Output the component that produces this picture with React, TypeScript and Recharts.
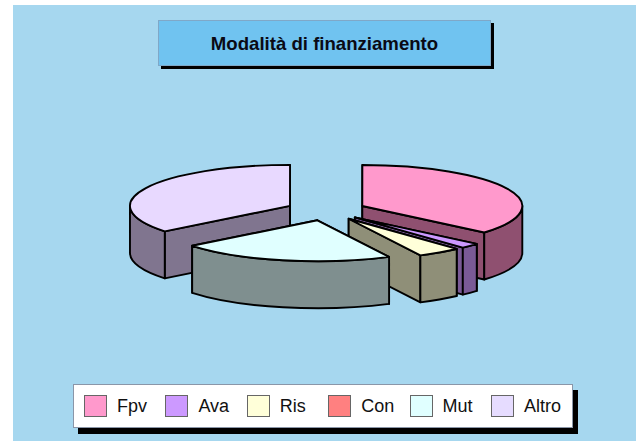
import { PieChart, Pie, Legend } from 'recharts'

// ring order, clockwise from the Mut/Altro split, also the paint order
const categories = ['Altro', 'Fpv', 'Ava', 'Ris', 'Con', 'Mut']
const shares = [35.7, 36.2, 2.0, 4.4, 0, 21.7]
const topColors = ['#E8D9FF', '#FF99CC', '#CC99FF', '#FFFFD9', '#FF8080', '#E0FFFF']
const wallColors = ['#80758F', '#8F5070', '#7A5A96', '#8F8F78', '#8F4848', '#7F8F8F']

const legendNames = ['Fpv', 'Ava', 'Ris', 'Con', 'Mut', 'Altro']
const legendColors = ['#FF99CC', '#CC99FF', '#FFFFD9', '#FF8080', '#E0FFFF', '#E6DCFF']

const data = categories.map((name, i) => ({
  name,
  value: shares[i],
  fill: topColors[i],
  wall: wallColors[i],
}))

const SQUASH = 0.256
const DEPTH = 47
const EXPLODE = 40
const rad = (a: number) => (a * Math.PI) / 180

function Slice3D(props: any) {
  const { cx, cy, outerRadius: r, startAngle, endAngle, fill, payload } = props
  // a zero share has no slice at all
  if (startAngle === endAngle) return <g />
  const wall = payload?.wall ?? props.wall
  const mid = rad((startAngle + endAngle) / 2)
  const ox = cx + EXPLODE * Math.cos(mid)
  const oy = cy - EXPLODE * Math.sin(mid) * SQUASH
  const pt = (a: number) => ({
    x: ox + r * Math.cos(rad(a)),
    y: oy - r * Math.sin(rad(a)) * SQUASH,
  })
  const ry = r * SQUASH
  const s = pt(startAngle)
  const e = pt(endAngle)
  const large = startAngle - endAngle > 180 ? 1 : 0
  const top = `M${ox},${oy} L${s.x},${s.y} A${r},${ry} 0 ${large} 1 ${e.x},${e.y} Z`

  const radial = (a: number) => {
    const p = pt(a)
    return `M${ox},${oy} L${p.x},${p.y} L${p.x},${p.y + DEPTH} L${ox},${oy + DEPTH} Z`
  }

  // outer wall only shows on the front half of the ellipse
  const walls = [[-180, 0], [180, 360]].flatMap(([lo, hi]) => {
    const a1 = Math.min(startAngle, hi)
    const a2 = Math.max(endAngle, lo)
    if (a1 <= a2) return []
    const p1 = pt(a1)
    const p2 = pt(a2)
    return [
      `M${p1.x},${p1.y} A${r},${ry} 0 0 1 ${p2.x},${p2.y} L${p2.x},${p2.y + DEPTH} A${r},${ry} 0 0 0 ${p1.x},${p1.y + DEPTH} Z`,
    ]
  })

  const line = { stroke: '#000', strokeWidth: 1.9, strokeLinejoin: 'round' as const }
  return (
    <g>
      <path d={radial(startAngle)} fill={wall} {...line} />
      <path d={radial(endAngle)} fill={wall} {...line} />
      {walls.map((d, i) => (
        <path key={i} d={d} fill={wall} {...line} />
      ))}
      <path d={top} fill={fill} {...line} />
    </g>
  )
}

function BoxLegend() {
  return (
    <div
      style={{
        position: 'relative',
        width: 500,
        height: 44,
        boxSizing: 'border-box',
        background: '#fff',
        border: '1px solid #8A96A8',
        boxShadow: '5px 6px 0 #000',
      }}
    >
      {legendNames.map((name, i) => (
        <div key={name}>
          <div
            style={{
              position: 'absolute',
              left: 10 + i * 81.4,
              top: 10,
              width: 23,
              height: 22,
              boxSizing: 'border-box',
              background: legendColors[i],
              border: '1px solid #666',
            }}
          />
          <div
            style={{
              position: 'absolute',
              left: 43 + i * 81.4,
              top: 10,
              lineHeight: '22px',
              fontSize: 18,
              fontFamily: '"Liberation Sans", Arial, sans-serif',
              color: '#111',
            }}
          >
            {name}
          </div>
        </div>
      ))}
    </div>
  )
}

export default function App() {
  return (
    <div style={{ position: 'absolute', left: 0, top: 0, width: 636, height: 441, background: '#fff', overflow: 'hidden' }}>
      <div style={{ position: 'absolute', left: 13, top: 5, width: 623, height: 436, background: '#A6D7EF' }} />
      <div
        style={{
          position: 'absolute',
          left: 158,
          top: 20,
          width: 333,
          height: 46,
          boxSizing: 'border-box',
          background: '#70C3F0',
          border: '1px solid #7FA8C8',
          boxShadow: '3px 3px 0 #000',
          textAlign: 'center',
          lineHeight: '46px',
          fontFamily: '"Liberation Sans", Arial, sans-serif',
          fontWeight: 'bold',
          fontSize: 18.6,
          color: '#0A0A14',
        }}
      >
        Modalità di finanziamento
      </div>
      <PieChart width={636} height={441} margin={{ top: 0, right: 0, bottom: 0, left: 0 }} style={{ position: 'absolute', left: 0, top: 0 }}>
        <Pie
          data={data}
          dataKey="value"
          nameKey="name"
          cx={326}
          cy={210.3}
          outerRadius={160}
          startAngle={218.5}
          endAngle={-141.5}
          shape={Slice3D}
          isAnimationActive={false}
        />
        <Legend content={<BoxLegend />} wrapperStyle={{ left: 73, top: 384, width: 500, bottom: 'auto' }} />
      </PieChart>
    </div>
  )
}
